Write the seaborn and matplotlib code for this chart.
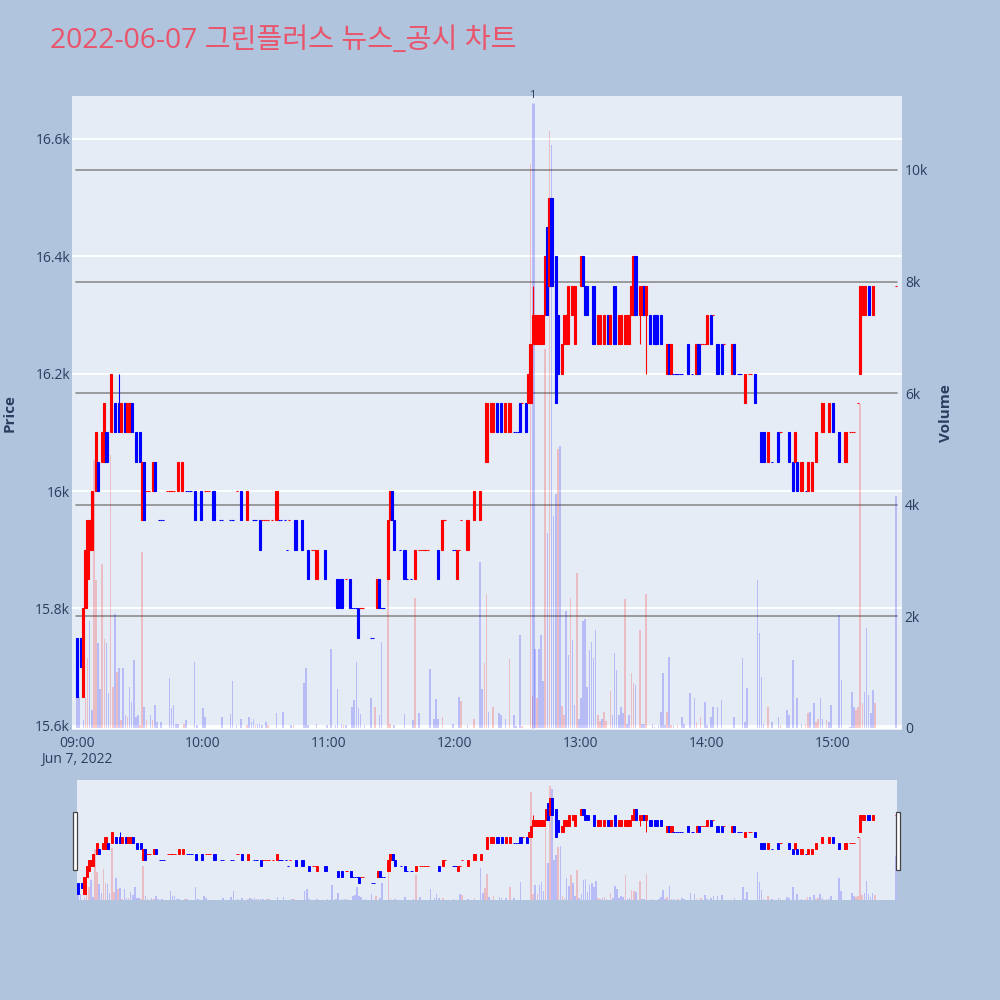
"""
Minute candle chart with volume, news marker and range slider
for 그린플러스 on 2022-06-07.
"""

import numpy as np
import matplotlib
matplotlib.use("Agg")
import matplotlib.pyplot as plt
import matplotlib.transforms as mtransforms
from matplotlib.patches import Rectangle
import seaborn as sns

# ---- data (minutes after 09:00) ----
candle_min = [
    0, 2, 3, 4, 5, 6, 7, 9, 10, 12,
    13, 14, 16, 18, 20, 21, 23, 24, 25, 26,
    28, 30, 31, 32, 33, 34, 36, 37, 39, 40,
    41, 43, 44, 45, 46, 48, 50, 52, 53, 54,
    56, 59, 61, 62, 63, 65, 68, 69, 73, 74,
    76, 78, 81, 84, 85, 87, 88, 89, 90, 91,
    93, 95, 96, 97, 99, 100, 101, 104, 107, 110,
    112, 113, 114, 118, 124, 126, 128, 130, 131, 132,
    133, 134, 135, 136, 140, 141, 143, 144, 145, 146,
    148, 149, 150, 151, 154, 156, 157, 159, 161, 163,
    164, 165, 166, 167, 172, 174, 175, 179, 180, 181,
    182, 183, 186, 189, 192, 195, 197, 198, 200, 202,
    204, 206, 208, 209, 210, 211, 212, 214, 215, 216,
    217, 218, 219, 220, 221, 222, 223, 224, 225, 226,
    228, 229, 231, 232, 233, 234, 236, 237, 240, 241,
    242, 243, 246, 248, 249, 251, 253, 254, 256, 258,
    259, 261, 262, 263, 264, 265, 266, 268, 269, 270,
    271, 273, 275, 276, 278, 281, 282, 283, 284, 285,
    286, 287, 288, 291, 293, 295, 296, 297, 298, 299,
    300, 302, 303, 305, 307, 308, 312, 313, 315, 316,
    318, 320, 321, 323, 326, 327, 329, 331, 334, 335,
    339, 341, 342, 343, 345, 347, 348, 350, 352, 355,
    358, 360, 363, 366, 368, 369, 370, 372, 373, 374,
    375, 377, 379, 390,
]
candle_open = [
    15750, 15750, 15650, 15800, 15850, 15900, 15900, 16000, 16050, 16050,
    16050, 16100, 16100, 16150, 16150, 16100, 16150, 16100, 16100, 16150,
    16100, 16100, 15950, 16050, 16000, 16000, 16000, 16050, 15950, 15950,
    15950, 16000, 16000, 16000, 16000, 16000, 16000, 16000, 16000, 16000,
    16000, 16000, 16000, 16000, 16000, 16000, 15950, 15950, 15950, 15950,
    16000, 16000, 15950, 15950, 15950, 15950, 15950, 15950, 15950, 15950,
    15950, 15950, 15950, 15950, 15950, 15900, 15950, 15950, 15950, 15900,
    15900, 15900, 15850, 15900, 15850, 15850, 15850, 15850, 15800, 15800,
    15800, 15800, 15800, 15800, 15750, 15750, 15800, 15850, 15800, 15800,
    15850, 15950, 16000, 15950, 15900, 15900, 15850, 15850, 15850, 15900,
    15900, 15900, 15900, 15900, 15900, 15900, 15950, 15900, 15900, 15850,
    15900, 15950, 15900, 15950, 15950, 16050, 16100, 16100, 16150, 16150,
    16100, 16100, 16100, 16100, 16100, 16150, 16150, 16150, 16150, 16150,
    16250, 16250, 16250, 16250, 16250, 16250, 16300, 16450, 16350, 16500,
    16400, 16300, 16200, 16250, 16250, 16250, 16300, 16250, 16350, 16400,
    16350, 16350, 16350, 16250, 16250, 16250, 16300, 16250, 16350, 16250,
    16250, 16250, 16250, 16250, 16300, 16300, 16400, 16300, 16300, 16350,
    16300, 16300, 16300, 16300, 16300, 16200, 16250, 16200, 16200, 16200,
    16200, 16200, 16200, 16250, 16200, 16200, 16250, 16250, 16250, 16250,
    16250, 16300, 16300, 16250, 16250, 16250, 16200, 16250, 16200, 16200,
    16150, 16200, 16200, 16200, 16100, 16100, 16050, 16050, 16100, 16100,
    16100, 16050, 16050, 16050, 16000, 16000, 16000, 16000, 16050, 16100,
    16100, 16150, 16100, 16050, 16100, 16100, 16100, 16150, 16200, 16300,
    16300, 16350, 16300, 16350,
]
candle_close = [
    15650, 15700, 15800, 15900, 15950, 15950, 16000, 16100, 16000, 16100,
    16150, 16050, 16200, 16100, 16100, 16150, 16100, 16150, 16150, 16100,
    16050, 16050, 16050, 15950, 16000, 16000, 16050, 16000, 15950, 15950,
    15950, 16000, 16000, 16000, 16000, 16050, 16050, 16000, 16000, 16000,
    15950, 15950, 16000, 16000, 16000, 15950, 15950, 15950, 15950, 15950,
    16000, 15950, 16000, 15950, 15950, 15900, 15950, 15950, 15950, 15950,
    15950, 16000, 15950, 15950, 15950, 15900, 15950, 15900, 15900, 15850,
    15900, 15900, 15900, 15850, 15800, 15800, 15850, 15800, 15800, 15800,
    15800, 15750, 15800, 15800, 15750, 15750, 15850, 15800, 15800, 15800,
    15950, 16000, 15950, 15900, 15900, 15850, 15850, 15850, 15900, 15900,
    15900, 15900, 15900, 15900, 15850, 15950, 15950, 15900, 15900, 15900,
    15900, 15950, 15950, 16000, 16000, 16150, 16150, 16150, 16100, 16100,
    16150, 16150, 16100, 16100, 16100, 16100, 16150, 16100, 16200, 16250,
    16300, 16300, 16300, 16300, 16300, 16300, 16400, 16300, 16500, 16350,
    16150, 16200, 16250, 16300, 16300, 16350, 16350, 16350, 16400, 16350,
    16300, 16300, 16250, 16300, 16300, 16300, 16250, 16300, 16250, 16300,
    16300, 16300, 16300, 16300, 16350, 16400, 16300, 16350, 16350, 16300,
    16350, 16250, 16250, 16250, 16250, 16250, 16200, 16250, 16200, 16200,
    16200, 16200, 16200, 16200, 16200, 16250, 16200, 16250, 16250, 16250,
    16300, 16250, 16300, 16200, 16200, 16250, 16250, 16200, 16200, 16200,
    16200, 16200, 16200, 16150, 16050, 16050, 16100, 16050, 16050, 16100,
    16050, 16000, 16100, 16000, 16050, 16000, 16050, 16050, 16100, 16150,
    16150, 16100, 16050, 16100, 16100, 16100, 16100, 16150, 16350, 16350,
    16350, 16300, 16350, 16350,
]
# shadows that stick out of the body
wick_min = [20, 217, 268, 271]
wick_high = [16200, 16350, 16350, 16350]
wick_low = [16100, 16250, 16250, 16200]

vol_min = [
    0, 1, 3, 4, 5, 6, 7, 8, 9, 10,
    11, 12, 13, 14, 15, 16, 17, 18, 19, 20,
    21, 22, 23, 24, 25, 26, 27, 28, 29, 30,
    31, 32, 33, 35, 36, 37, 38, 40, 44, 45,
    46, 47, 48, 51, 52, 56, 57, 60, 61, 69,
    73, 74, 76, 78, 81, 82, 83, 84, 85, 86,
    87, 88, 90, 91, 95, 98, 102, 103, 108, 109,
    110, 114, 119, 121, 123, 124, 126, 127, 128, 131,
    132, 133, 134, 135, 137, 140, 142, 144, 145, 148,
    149, 151, 156, 160, 161, 163, 168, 170, 171, 172,
    174, 179, 182, 183, 186, 189, 192, 193, 194, 195,
    196, 198, 201, 202, 204, 206, 208, 209, 211, 212,
    216, 217, 218, 219, 220, 221, 222, 223, 224, 225,
    226, 227, 228, 229, 230, 231, 232, 233, 234, 235,
    236, 237, 238, 239, 240, 241, 242, 243, 244, 245,
    246, 247, 248, 249, 250, 251, 252, 254, 255, 256,
    257, 258, 259, 260, 261, 262, 263, 264, 265, 266,
    268, 269, 270, 271, 274, 275, 277, 278, 279, 280,
    281, 282, 283, 284, 286, 288, 289, 292, 294, 295,
    297, 299, 300, 302, 303, 305, 307, 313, 317, 318,
    319, 324, 325, 326, 327, 329, 331, 334, 335, 338,
    339, 341, 343, 345, 347, 348, 349, 351, 352, 353,
    354, 355, 357, 358, 359, 363, 364, 368, 369, 370,
    371, 372, 373, 374, 375, 376, 377, 378, 379, 380,
    390,
]
vol_k = [
    1.19, 0.56, 0.15, 0.53, 1.25, 1.92, 0.32, 4.8, 2.65, 1.52,
    0.7, 2.94, 1.6, 1.52, 0.62, 4.9, 0.73, 2.04, 1.0, 1.08,
    0.14, 1.07, 0.23, 0.2, 0.73, 0.47, 1.22, 0.19, 0.23, 0.06,
    3.15, 0.38, 0.14, 0.23, 0.14, 0.41, 0.11, 0.11, 0.89, 0.35,
    0.41, 0.08, 0.08, 0.08, 0.14, 1.19, 0.05, 0.35, 0.19, 0.19,
    0.25, 0.84, 0.05, 0.16, 0.05, 0.2, 0.1, 0.17, 0.05, 0.08,
    0.08, 0.05, 0.11, 0.05, 0.26, 0.29, 0.05, 0.05, 0.8, 1.07,
    0.05, 0.08, 0.05, 1.41, 0.05, 0.7, 0.07, 0.05, 0.05, 0.38,
    0.5, 1.18, 0.35, 0.25, 0.05, 0.54, 0.38, 0.23, 1.55, 2.65,
    0.08, 0.05, 0.25, 0.14, 2.33, 0.26, 1.05, 0.17, 0.52, 0.17,
    0.2, 0.07, 0.56, 0.49, 0.05, 0.17, 2.97, 0.7, 1.16, 2.4,
    0.29, 0.38, 0.26, 0.23, 0.16, 1.23, 0.23, 0.04, 1.67, 0.04,
    10.1, 0.57, 1.42, 0.54, 1.42, 1.67, 0.85, 6.8, 3.5, 10.7,
    10.45, 3.8, 4.2, 5.0, 5.06, 0.4, 0.23, 2.1, 1.3, 2.33,
    1.57, 0.41, 2.77, 0.16, 0.54, 1.92, 1.95, 0.73, 1.39, 1.55,
    1.26, 1.76, 0.23, 0.13, 0.16, 0.29, 0.13, 0.66, 0.23, 1.35,
    1.04, 0.23, 0.38, 0.26, 2.32, 0.08, 0.23, 0.98, 0.8, 0.77,
    1.76, 0.08, 0.08, 2.41, 0.08, 0.02, 0.05, 0.29, 0.98, 0.05,
    0.29, 1.28, 0.05, 0.05, 0.05, 0.2, 0.08, 0.62, 0.53, 0.11,
    0.2, 0.47, 0.05, 0.2, 0.38, 0.38, 0.5, 0.2, 1.25, 0.11,
    0.71, 2.65, 1.7, 0.92, 0.08, 0.38, 0.11, 0.2, 0.05, 0.32,
    0.23, 1.22, 0.53, 0.08, 0.08, 0.26, 0.29, 0.44, 0.11, 0.17,
    0.53, 0.17, 0.14, 0.11, 0.41, 2.02, 0.86, 0.02, 0.65, 0.38,
    0.32, 0.38, 5.8, 0.44, 0.65, 1.79, 0.59, 0.26, 0.68, 0.44,
    4.15,
]
# 1 = traded up (red bar), 0 = down (blue bar)
vol_up = [
    0, 0, 0, 1, 1, 0, 0, 1, 1, 0,
    0, 1, 1, 0, 0, 1, 1, 0, 1, 0,
    1, 0, 0, 1, 0, 0, 0, 0, 0, 1,
    1, 0, 1, 0, 1, 0, 0, 0, 0, 0,
    0, 0, 0, 1, 0, 0, 0, 0, 0, 0,
    0, 0, 0, 0, 1, 0, 0, 0, 1, 0,
    0, 0, 0, 1, 0, 0, 0, 1, 0, 0,
    0, 0, 0, 0, 0, 0, 0, 1, 0, 0,
    0, 0, 0, 0, 0, 0, 1, 0, 0, 1,
    1, 0, 0, 0, 1, 0, 0, 0, 0, 0,
    1, 0, 0, 1, 0, 1, 0, 0, 1, 1,
    0, 1, 0, 0, 0, 1, 0, 0, 0, 1,
    1, 1, 0, 1, 0, 0, 0, 1, 0, 1,
    0, 0, 0, 1, 0, 1, 1, 0, 0, 1,
    0, 0, 1, 0, 0, 0, 0, 0, 0, 0,
    0, 0, 1, 1, 0, 1, 1, 1, 0, 0,
    0, 0, 0, 0, 1, 0, 0, 1, 1, 0,
    1, 0, 0, 1, 0, 0, 0, 0, 0, 0,
    1, 0, 1, 0, 1, 0, 0, 0, 0, 1,
    1, 0, 0, 0, 0, 0, 0, 0, 0, 0,
    0, 0, 0, 0, 0, 1, 0, 0, 1, 0,
    0, 0, 0, 0, 1, 1, 0, 0, 1, 1,
    0, 0, 1, 0, 0, 0, 0, 0, 0, 0,
    1, 1, 1, 1, 0, 0, 0, 0, 0, 1,
    0,
]

news_min = [217]
news_label = ["1"]

price_ticks = [15600, 15800, 16000, 16200, 16400, 16600]
vol_ticks = [0, 2000, 4000, 6000, 8000, 10000]
hour_ticks = [0, 60, 120, 180, 240, 300, 360]
hour_labels = ["09:00\nJun 7, 2022", "10:00", "11:00", "12:00", "13:00", "14:00", "15:00"]

# ---- style ----
sns.set_theme(style="white")
plt.rcParams["font.family"] = ["Open Sans", "Noto Sans CJK KR", "DejaVu Sans"]

PAPER = "#b0c4de"
PLOT_BG = "#e5ecf6"
TXT = "#2a3f5f"
UP = "#ff0000"
DOWN = "#0000ff"
UP_VOL = (1.0, 0.0, 0.0, 0.2)
DOWN_VOL = (0.0, 0.0, 1.0, 0.2)


def candle_colors():
    # plotly style: flat candles take the direction from the previous close
    colors = []
    prev_close, prev_up = None, True
    for o, c in zip(candle_open, candle_close):
        if c != o:
            up = c > o
        elif prev_close is None or c == prev_close:
            up = prev_up
        else:
            up = c > prev_close
        colors.append(UP if up else DOWN)
        prev_close, prev_up = c, up
    return colors


def draw_content(ax_vol, ax_price, body_w, lw):
    vcol = [UP_VOL if u else DOWN_VOL for u in vol_up]
    ax_vol.bar(vol_min, np.array(vol_k) * 1000, width=0.75, color=vcol,
               linewidth=0, zorder=2)

    colors = candle_colors()
    o = np.array(candle_open)
    c = np.array(candle_close)
    for m, hi, lo in zip(wick_min, wick_high, wick_low):
        col = colors[candle_min.index(m)]
        ax_price.vlines(m, lo, hi, color=col, linewidth=lw, zorder=3)
    ax_price.bar(candle_min, np.abs(c - o), bottom=np.minimum(o, c), width=body_w,
                 color=colors, edgecolor=colors, linewidth=lw, zorder=4)


fig = plt.figure(figsize=(10, 10), dpi=100)
fig.patch.set_facecolor(PAPER)

# ---- main chart ----
ax_vol = fig.add_axes([0.072, 0.27, 0.83, 0.634])
ax_price = ax_vol.twinx()
ax_vol.set_facecolor(PLOT_BG)
ax_price.set_facecolor("none")

draw_content(ax_vol, ax_price, body_w=1.05, lw=0.8)

ax_vol.set_xlim(-2.4, 392.9)
ax_vol.set_ylim(-36, 11326)
ax_price.set_ylim(15593, 16673)

# price grid (white) under the volume bars, volume grid (gray)
price_tf = mtransforms.blended_transform_factory(ax_vol.transAxes, ax_price.transData)
for p in price_ticks:
    ax_vol.plot([0, 1], [p, p], transform=price_tf, color="white", linewidth=1.3, zorder=0.5)
for v in vol_ticks[1:]:
    ax_vol.plot([0.005, 0.994], [v, v], transform=ax_vol.get_yaxis_transform(),
                color="#8c8c8c", linewidth=1.2, zorder=1)
ax_vol.axhline(0, color="white", linewidth=1.5, zorder=1)

# news marker
for m, lab in zip(news_min, news_label):
    ax_vol.vlines(m, 0, 11200, color=(0.0, 0.0, 1.0, 0.22), linewidth=2.0, zorder=5)
    ax_vol.text(m, 1.0, lab, transform=ax_vol.get_xaxis_transform(), ha="center",
                va="center", fontsize=8, color=TXT, zorder=6)

ax_vol.yaxis.tick_right()
ax_price.yaxis.tick_left()
ax_vol.set_yticks(vol_ticks)
ax_vol.set_yticklabels(["0" if v == 0 else f"{v // 1000}k" for v in vol_ticks])
ax_price.set_yticks(price_ticks)
ax_price.set_yticklabels([f"{p / 1000:g}k" for p in price_ticks])
ax_vol.set_xticks(hour_ticks)
ax_vol.set_xticklabels(hour_labels, linespacing=1.1)
ax_vol.tick_params(axis="x", length=0, pad=4, labelsize=10, labelcolor=TXT)
ax_vol.tick_params(axis="y", length=0, pad=2, labelsize=10, labelcolor=TXT)
ax_price.tick_params(axis="y", length=0, pad=1.5, labelsize=10, labelcolor=TXT)
ax_vol.grid(False)
ax_price.grid(False)
for a in (ax_vol, ax_price):
    for s in a.spines.values():
        s.set_visible(False)

fig.text(0.010, 0.587, "Price", rotation=90, ha="center", va="center",
         fontsize=11, fontweight="bold", color=TXT)
fig.text(0.946, 0.587, "Volume", rotation=90, ha="center", va="center",
         fontsize=11, fontweight="bold", color=TXT)
fig.text(0.05, 0.959, "2022-06-07 그린플러스 뉴스_공시 차트", ha="left", va="center",
         fontsize=20.3, color="#e9546b")

# ---- range slider ----
sl_vol = fig.add_axes([0.077, 0.10, 0.82, 0.12])
sl_price = sl_vol.twinx()
sl_vol.set_facecolor(PLOT_BG)
sl_price.set_facecolor("none")
draw_content(sl_vol, sl_price, body_w=1.05, lw=0.7)
sl_vol.set_xlim(-0.6, 390.6)
sl_vol.set_ylim(0, 11260)
sl_price.set_ylim(15597, 16656)
for a in (sl_vol, sl_price):
    a.set_xticks([])
    a.set_yticks([])
    a.grid(False)
    for s in a.spines.values():
        s.set_visible(False)

for hx in (0.073, 0.896):
    fig.patches.append(Rectangle((hx, 0.13), 0.004, 0.058, transform=fig.transFigure,
                                 facecolor="white", edgecolor="#444444", linewidth=0.9))

fig.savefig("out.png", dpi=100, facecolor=PAPER)
plt.close(fig)
